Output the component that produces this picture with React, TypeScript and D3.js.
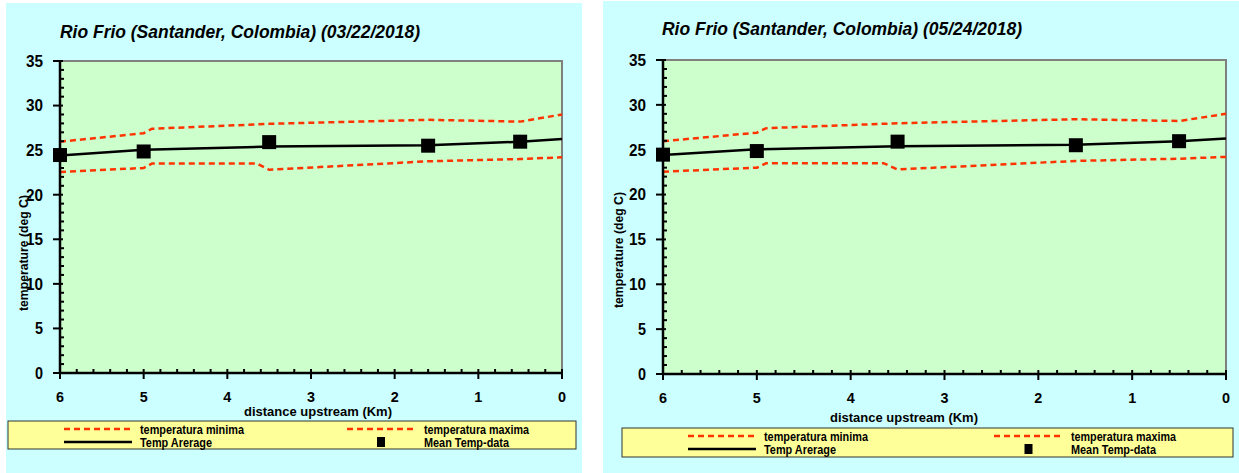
import React from "react";
import * as d3 from "d3";

const X_TICKS = [6, 5, 4, 3, 2, 1, 0];
const Y_TICKS = [0, 5, 10, 15, 20, 25, 30, 35];
const DATES = ["03/22/2018", "05/24/2018"];

const MIN_DIST = [6, 5, 4.9, 3.65, 3.5, 1.6, 0.5, 0];
const MIN_TEMP = [22.55, 23.0, 23.5, 23.5, 22.8, 23.75, 24.0, 24.2];

const MAX_DIST = [6, 5, 4.9, 3.5, 1.6, 0.5, 0];
const MAX_TEMP = [25.95, 26.9, 27.4, 27.95, 28.4, 28.2, 29.0];

const AVG_DIST = [6, 5, 3.5, 1.6, 0.5, 0];
const AVG_TEMP = [24.4, 25.05, 25.4, 25.55, 25.95, 26.25];

const DATA_DIST = [6, 5, 3.5, 1.6, 0.5];
const DATA_TEMP = [24.45, 24.85, 25.9, 25.5, 25.95];

const LEGEND_LABELS = ["temperatura minima", "temperatura maxima", "Temp Arerage", "Mean Temp-data"];

const FONT = "'Liberation Sans', Arial, sans-serif";
const RED = "#FF3300";

type Layout = {
  panel: [number, number, number, number];
  plot: { l: number; r: number; t: number; b: number };
  titleBase: number;
  titleX: number;
  xTitle: { cx: number; base: number };
  yTitle: { cx: number; cy: number };
  legend: {
    x0: number; x1: number; y0: number; y1: number;
    rows: [number, number];
    c1: [number, number, number];
    c2: [number, number, number];
  };
};

const LAYOUTS: Layout[] = [
  {
    panel: [6, 3, 582, 473],
    plot: { l: 60, r: 562, t: 61, b: 373 },
    titleBase: 38,
    titleX: 60,
    xTitle: { cx: 318, base: 416 },
    yTitle: { cx: 28, cy: 253 },
    legend: { x0: 8, x1: 576, y0: 421, y1: 449, rows: [429, 442], c1: [64, 132, 140], c2: [347, 415, 424] },
  },
  {
    panel: [603, 1, 1239, 473],
    plot: { l: 663, r: 1226, t: 60, b: 374 },
    titleBase: 35,
    titleX: 662,
    xTitle: { cx: 904, base: 422 },
    yTitle: { cx: 623, cy: 250 },
    legend: { x0: 622, x1: 1233, y0: 428, y1: 457, rows: [436, 449], c1: [688, 756, 764], c2: [994, 1063, 1071] },
  },
];

function Chart({ L, date }: { L: Layout; date: string }) {
  const { plot } = L;
  const x = d3.scaleLinear().domain([6, 0]).range([plot.l, plot.r]);
  const y = d3.scaleLinear().domain([0, 35]).range([plot.b, plot.t]);
  const line = d3
    .line<[number, number]>()
    .x((d) => x(d[0]))
    .y((d) => y(d[1]));
  const zip = (a: number[], b: number[]) => a.map((v, i) => [v, b[i]] as [number, number]);
  const minorX = d3.range(0, 30).map((i) => i * 0.2).filter((v) => Math.abs(v - Math.round(v)) > 1e-6);
  const minorY = d3.range(0, 36).filter((v) => v % 5 !== 0);
  const lg = L.legend;
  const [px0, py0, px1, py1] = L.panel;
  return (
    <g>
      <rect x={px0} y={py0} width={px1 - px0} height={py1 - py0} fill="#CCFFFF" />
      <rect x={plot.l} y={plot.t} width={plot.r - plot.l} height={plot.b - plot.t} fill="#CCFFCC" />
      <polyline
        points={`${plot.l},${plot.t} ${plot.r},${plot.t} ${plot.r},${plot.b}`}
        fill="none"
        stroke="#808080"
        strokeWidth={2}
      />
      <text x={L.titleX} y={L.titleBase} fontFamily={FONT} fontWeight="bold" fontStyle="italic" fontSize={19}
        textLength={360} lengthAdjust="spacingAndGlyphs">
        {`Rio Frio (Santander, Colombia) (${date})`}
      </text>
      <path d={line(zip(MIN_DIST, MIN_TEMP)) || ""} fill="none" stroke={RED} strokeWidth={2.5} strokeDasharray="6,4" />
      <path d={line(zip(MAX_DIST, MAX_TEMP)) || ""} fill="none" stroke={RED} strokeWidth={2.5} strokeDasharray="6,4" />
      <path d={line(zip(AVG_DIST, AVG_TEMP)) || ""} fill="none" stroke="#000" strokeWidth={2.5} />
      {DATA_DIST.map((d, i) => (
        <rect key={i} x={x(d) - 7} y={y(DATA_TEMP[i]) - 7} width={14} height={14} fill="#000" />
      ))}
      <line x1={plot.l} y1={plot.t} x2={plot.l} y2={plot.b} stroke="#000" strokeWidth={2.5} />
      <line x1={plot.l} y1={plot.b} x2={plot.r} y2={plot.b} stroke="#000" strokeWidth={2.5} />
      {minorY.map((v) => (
        <line key={"my" + v} x1={plot.l} x2={plot.l + 4} y1={y(v)} y2={y(v)} stroke="#000" strokeWidth={2} />
      ))}
      {Y_TICKS.map((v) => (
        <g key={"y" + v}>
          <line x1={plot.l - 7} x2={plot.l + 3} y1={y(v)} y2={y(v)} stroke="#000" strokeWidth={2} />
          <text x={plot.l - 17} y={y(v) + 5.8} textAnchor="end" fontFamily={FONT} fontWeight="bold" fontSize={16}
            textLength={v < 10 ? 8 : 17} lengthAdjust="spacingAndGlyphs">
            {v}
          </text>
        </g>
      ))}
      {minorX.map((v) => (
        <line key={"mx" + v} x1={x(v)} x2={x(v)} y1={plot.b} y2={plot.b - 4} stroke="#000" strokeWidth={2} />
      ))}
      {X_TICKS.map((v) => (
        <g key={"x" + v}>
          <line x1={x(v)} x2={x(v)} y1={plot.b - 4} y2={plot.b + 6} stroke="#000" strokeWidth={2} />
          <text x={x(v)} y={plot.b + 29} textAnchor="middle" fontFamily={FONT} fontWeight="bold" fontSize={15}
            textLength={8} lengthAdjust="spacingAndGlyphs">
            {v}
          </text>
        </g>
      ))}
      <text x={L.xTitle.cx} y={L.xTitle.base} textAnchor="middle" fontFamily={FONT} fontWeight="bold" fontSize={13}
        textLength={148} lengthAdjust="spacingAndGlyphs">
        distance upstream (Km)
      </text>
      <text transform={`translate(${L.yTitle.cx},${L.yTitle.cy}) rotate(-90)`} textAnchor="middle" fontFamily={FONT}
        fontWeight="bold" fontSize={13} textLength={116} lengthAdjust="spacingAndGlyphs">
        temperature (deg C)
      </text>
      <rect x={lg.x0} y={lg.y0} width={lg.x1 - lg.x0} height={lg.y1 - lg.y0} fill="#FFFF99" stroke="#333" strokeWidth={1} />
      <line x1={lg.c1[0]} x2={lg.c1[1]} y1={lg.rows[0]} y2={lg.rows[0]} stroke={RED} strokeWidth={2.5} strokeDasharray="6,4" />
      <line x1={lg.c2[0]} x2={lg.c2[1]} y1={lg.rows[0]} y2={lg.rows[0]} stroke={RED} strokeWidth={2.5} strokeDasharray="6,4" />
      <line x1={lg.c1[0]} x2={lg.c1[1]} y1={lg.rows[1]} y2={lg.rows[1]} stroke="#000" strokeWidth={2.5} />
      <rect x={(lg.c2[0] + lg.c2[1]) / 2 - 4} y={lg.rows[1] - 5} width={8} height={10} fill="#000" />
      {[
        [lg.c1[2], lg.rows[0], LEGEND_LABELS[0], 104],
        [lg.c2[2], lg.rows[0], LEGEND_LABELS[1], 105],
        [lg.c1[2], lg.rows[1], LEGEND_LABELS[2], 72],
        [lg.c2[2], lg.rows[1], LEGEND_LABELS[3], 85],
      ].map(([tx, ty, s, w], i) => (
        <text key={"l" + i} x={tx as number} y={(ty as number) + 5} fontFamily={FONT} fontWeight="bold" fontSize={13}
          textLength={w as number} lengthAdjust="spacingAndGlyphs">
          {s as string}
        </text>
      ))}
    </g>
  );
}

export default function App() {
  return (
    <svg width={1239} height={473} style={{ position: "absolute", left: 0, top: 0, background: "#fff" }}>
      {LAYOUTS.map((L, i) => (
        <Chart key={i} L={L} date={DATES[i]} />
      ))}
    </svg>
  );
}
